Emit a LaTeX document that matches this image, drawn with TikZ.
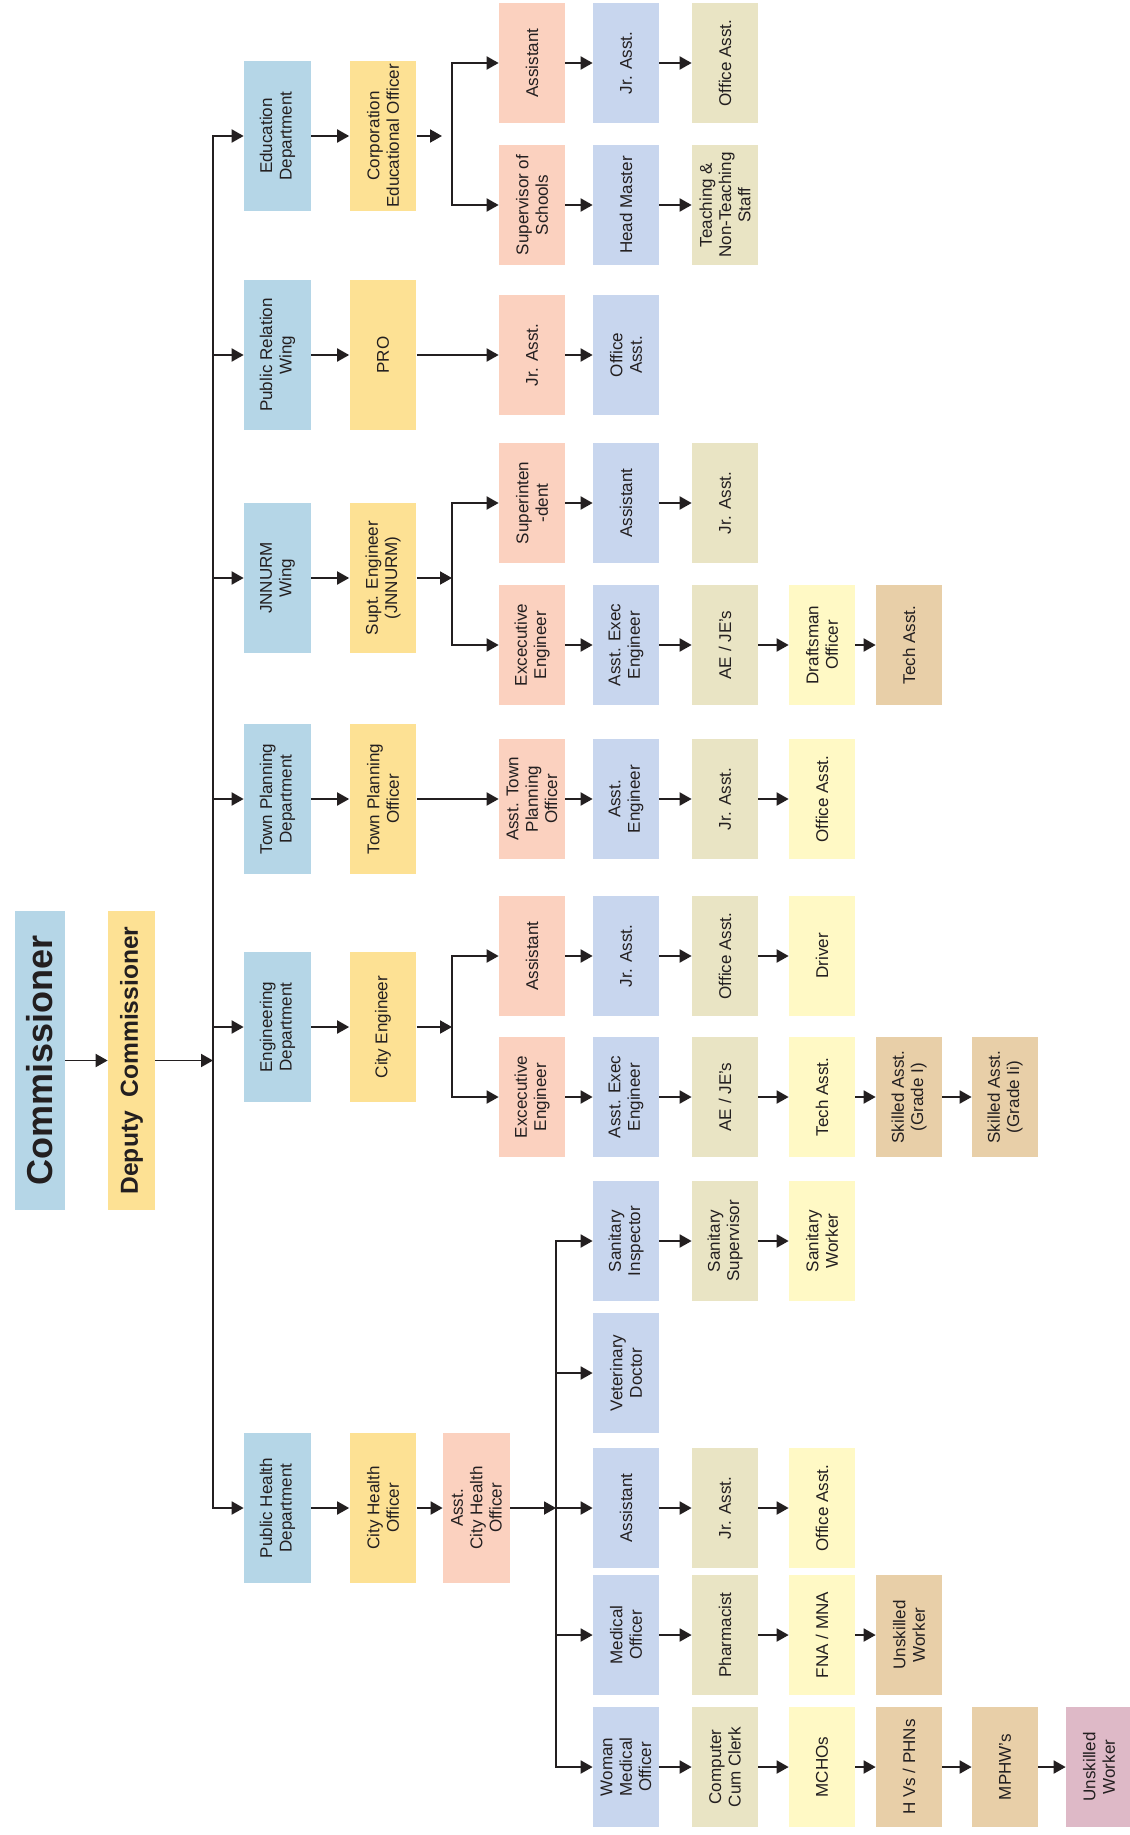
\documentclass[tikz,border=0pt]{standalone}
\usepackage{fontspec}
\setmainfont{Liberation Sans}
\usetikzlibrary{positioning, arrows.meta}

\definecolor{ink}{HTML}{231F20}
\definecolor{deptblue}{HTML}{B5D6E7}
\definecolor{headgold}{HTML}{FDE194}
\definecolor{salmon}{HTML}{FBD1BF}
\definecolor{lavender}{HTML}{C8D6EE}
\definecolor{beige}{HTML}{E9E4C4}
\definecolor{paleyellow}{HTML}{FFF9C5}
\definecolor{tanbox}{HTML}{E8CFA8}
\definecolor{rosebox}{HTML}{DEB9C7}

\begin{document}
\begin{tikzpicture}[x=0.02cm, y=-0.02cm, >={Triangle[length=2.4mm, width=2.6mm]},
    conn/.style={line width=1.1pt, draw=ink},
    box/.style={rectangle, rotate=90, inner sep=0pt, align=center, text=ink, font=\fontsize{9.7}{11}\selectfont},
    dept/.style={box, fill=deptblue, minimum width=3cm, minimum height=1.34cm},
    head/.style={box, fill=headgold, minimum width=3cm, minimum height=1.34cm},
    post/.style={box, minimum width=2.4cm, minimum height=1.32cm},
    salmonpost/.style={post, fill=salmon},
    bluepost/.style={post, fill=lavender},
    beigepost/.style={post, fill=beige},
    yellowpost/.style={post, fill=paleyellow},
    tanpost/.style={post, fill=tanbox},
    rosepost/.style={post, fill=rosebox}]
    \useasboundingbox (0,0) rectangle (1129,1835);

    \node (comm) [box, fill=deptblue, minimum width=5.98cm, minimum height=1cm, font=\fontsize{20.5}{24}\selectfont\bfseries] at (40,1060.5) {Commissioner};
    \node (deputy) [box, fill=headgold, minimum width=5.98cm, minimum height=0.94cm, font=\fontsize{14}{17}\selectfont\bfseries] at (131.5,1060.5) {Deputy\ \ Commissioner};
    \coordinate (trunk) at (213,1060.5);

    \node (edu) [dept] at (277.5,136) {Education\\Department};
    \node (ceo) [head] at (383,136) {Corporation\\Educational Officer};
    \coordinate (edubr) at (452,136);
    \node (eduasst) [salmonpost] at (532,63) {Assistant};
    \node (edujr) [bluepost] at (626,63) {Jr. Asst.};
    \node (eduoff) [beigepost] at (725,63) {Office Asst.};
    \node (edusup) [salmonpost] at (532,205) {Supervisor of\\Schools};
    \node (eduhm) [bluepost] at (626,205) {Head Master};
    \node (edustaff) [beigepost] at (725,205) {Teaching \&\\Non-Teaching\\Staff};

    \node (prw) [dept] at (277.5,355) {Public Relation\\Wing};
    \node (pro) [head] at (383,355) {PRO};
    \node (prjr) [salmonpost] at (532,355) {Jr. Asst.};
    \node (proff) [bluepost] at (626,355) {Office\\Asst.};

    \node (jnn) [dept] at (277.5,578) {JNNURM\\Wing};
    \node (supt) [head] at (383,578) {Supt. Engineer\\(JNNURM)};
    \coordinate (jnnbr) at (452,578);
    \node (jnnsupd) [salmonpost] at (532,503) {Superinten\\-dent};
    \node (jnnasst) [bluepost] at (626,503) {Assistant};
    \node (jnnjr) [beigepost] at (725,503) {Jr. Asst.};
    \node (jnnexe) [salmonpost] at (532,645) {Excecutive\\Engineer};
    \node (jnnaee) [bluepost] at (626,645) {Asst. Exec\\Engineer};
    \node (jnnae) [beigepost] at (725,645) {AE / JE's};
    \node (jnndraft) [yellowpost] at (822,645) {Draftsman\\Officer};
    \node (jnntech) [tanpost] at (909,645) {Tech Asst.};

    \node (tpd) [dept] at (277.5,799) {Town Planning\\Department};
    \node (tpo) [head] at (383,799) {Town Planning\\Officer};
    \node (tpasst) [salmonpost] at (532,799) {Asst. Town\\Planning\\Officer};
    \node (tpae) [bluepost] at (626,799) {Asst.\\Engineer};
    \node (tpjr) [beigepost] at (725,799) {Jr. Asst.};
    \node (tpoff) [yellowpost] at (822,799) {Office Asst.};

    \node (eng) [dept] at (277.5,1027) {Engineering\\Department};
    \node (ce) [head] at (383,1027) {City Engineer};
    \coordinate (engbr) at (452,1027);
    \node (engasst) [salmonpost] at (532,956) {Assistant};
    \node (engjr) [bluepost] at (626,956) {Jr. Asst.};
    \node (engoff) [beigepost] at (725,956) {Office Asst.};
    \node (engdrv) [yellowpost] at (822,956) {Driver};
    \node (engexe) [salmonpost] at (532,1097) {Excecutive\\Engineer};
    \node (engaee) [bluepost] at (626,1097) {Asst. Exec\\Engineer};
    \node (engae) [beigepost] at (725,1097) {AE / JE's};
    \node (engtech) [yellowpost] at (822,1097) {Tech Asst.};
    \node (engsk1) [tanpost] at (909,1097) {Skilled Asst.\\(Grade I)};
    \node (engsk2) [tanpost] at (1005,1097) {Skilled Asst.\\(Grade Ii)};

    \node (phd) [dept] at (277.5,1508) {Public Health\\Department};
    \node (cho) [head] at (383,1508) {City Health\\Officer};
    \node (acho) [head, fill=salmon] at (476.5,1508) {Asst.\\City Health\\Officer};
    \coordinate (phbr) at (556,1508);
    \node (sani) [bluepost] at (626,1241) {Sanitary\\Inspector};
    \node (sans) [beigepost] at (725,1241) {Sanitary\\Supervisor};
    \node (sanw) [yellowpost] at (822,1241) {Sanitary\\Worker};
    \node (vet) [bluepost] at (626,1373) {Veterinary\\Doctor};
    \node (phasst) [bluepost] at (626,1508) {Assistant};
    \node (phjr) [beigepost] at (725,1508) {Jr. Asst.};
    \node (phoff) [yellowpost] at (822,1508) {Office Asst.};
    \node (med) [bluepost] at (626,1635) {Medical\\Officer};
    \node (pharm) [beigepost] at (725,1635) {Pharmacist};
    \node (fna) [yellowpost] at (822,1635) {FNA / MNA};
    \node (medunsk) [tanpost] at (909,1635) {Unskilled\\Worker};
    \node (wmo) [bluepost] at (626,1767) {Woman\\Medical\\Officer};
    \node (clerk) [beigepost] at (725,1767) {Computer\\Cum Clerk};
    \node (mcho) [yellowpost] at (822,1767) {MCHOs};
    \node (hvs) [tanpost] at (909,1767) {H Vs / PHNs};
    \node (mphw) [tanpost] at (1005,1767) {MPHW's};
    \node (wunsk) [rosepost] at (1099,1767) {Unskilled\\Worker};

    \draw [->, conn] (comm) -- (deputy);
    \draw [->, conn] (deputy) -- (trunk);
    \draw [->, conn] (trunk) |- (edu);
    \draw [->, conn] (trunk) |- (prw);
    \draw [->, conn] (trunk) |- (jnn);
    \draw [->, conn] (trunk) |- (tpd);
    \draw [->, conn] (trunk) |- (eng);
    \draw [->, conn] (trunk) |- (phd);

    \draw [->, conn] (edu) -- (ceo);
    \draw [->, conn] (ceo) -- ([xshift=-0.2cm]edubr);
    \draw [->, conn] (edubr) |- (eduasst);
    \draw [->, conn] (edubr) |- (edusup);
    \draw [->, conn] (eduasst) -- (edujr);
    \draw [->, conn] (edujr) -- (eduoff);
    \draw [->, conn] (edusup) -- (eduhm);
    \draw [->, conn] (eduhm) -- (edustaff);

    \draw [->, conn] (prw) -- (pro);
    \draw [->, conn] (pro) -- (prjr);
    \draw [->, conn] (prjr) -- (proff);

    \draw [->, conn] (jnn) -- (supt);
    \draw [->, conn] (supt) -- (jnnbr);
    \draw [->, conn] (jnnbr) |- (jnnsupd);
    \draw [->, conn] (jnnbr) |- (jnnexe);
    \draw [->, conn] (jnnsupd) -- (jnnasst);
    \draw [->, conn] (jnnasst) -- (jnnjr);
    \draw [->, conn] (jnnexe) -- (jnnaee);
    \draw [->, conn] (jnnaee) -- (jnnae);
    \draw [->, conn] (jnnae) -- (jnndraft);
    \draw [->, conn] (jnndraft) -- (jnntech);

    \draw [->, conn] (tpd) -- (tpo);
    \draw [->, conn] (tpo) -- (tpasst);
    \draw [->, conn] (tpasst) -- (tpae);
    \draw [->, conn] (tpae) -- (tpjr);
    \draw [->, conn] (tpjr) -- (tpoff);

    \draw [->, conn] (eng) -- (ce);
    \draw [->, conn] (ce) -- (engbr);
    \draw [->, conn] (engbr) |- (engasst);
    \draw [->, conn] (engbr) |- (engexe);
    \draw [->, conn] (engasst) -- (engjr);
    \draw [->, conn] (engjr) -- (engoff);
    \draw [->, conn] (engoff) -- (engdrv);
    \draw [->, conn] (engexe) -- (engaee);
    \draw [->, conn] (engaee) -- (engae);
    \draw [->, conn] (engae) -- (engtech);
    \draw [->, conn] (engtech) -- (engsk1);
    \draw [->, conn] (engsk1) -- (engsk2);

    \draw [->, conn] (phd) -- (cho);
    \draw [->, conn] (cho) -- (acho);
    \draw [->, conn] (acho) -- (phbr);
    \draw [->, conn] (phbr) |- (sani);
    \draw [->, conn] (phbr) |- (vet);
    \draw [->, conn] (phbr) -- (phasst);
    \draw [->, conn] (phbr) |- (med);
    \draw [->, conn] (phbr) |- (wmo);
    \draw [->, conn] (sani) -- (sans);
    \draw [->, conn] (sans) -- (sanw);
    \draw [->, conn] (phasst) -- (phjr);
    \draw [->, conn] (phjr) -- (phoff);
    \draw [->, conn] (med) -- (pharm);
    \draw [->, conn] (pharm) -- (fna);
    \draw [->, conn] (fna) -- (medunsk);
    \draw [->, conn] (wmo) -- (clerk);
    \draw [->, conn] (clerk) -- (mcho);
    \draw [->, conn] (mcho) -- (hvs);
    \draw [->, conn] (hvs) -- (mphw);
    \draw [->, conn] (mphw) -- (wunsk);
\end{tikzpicture}
\end{document}
